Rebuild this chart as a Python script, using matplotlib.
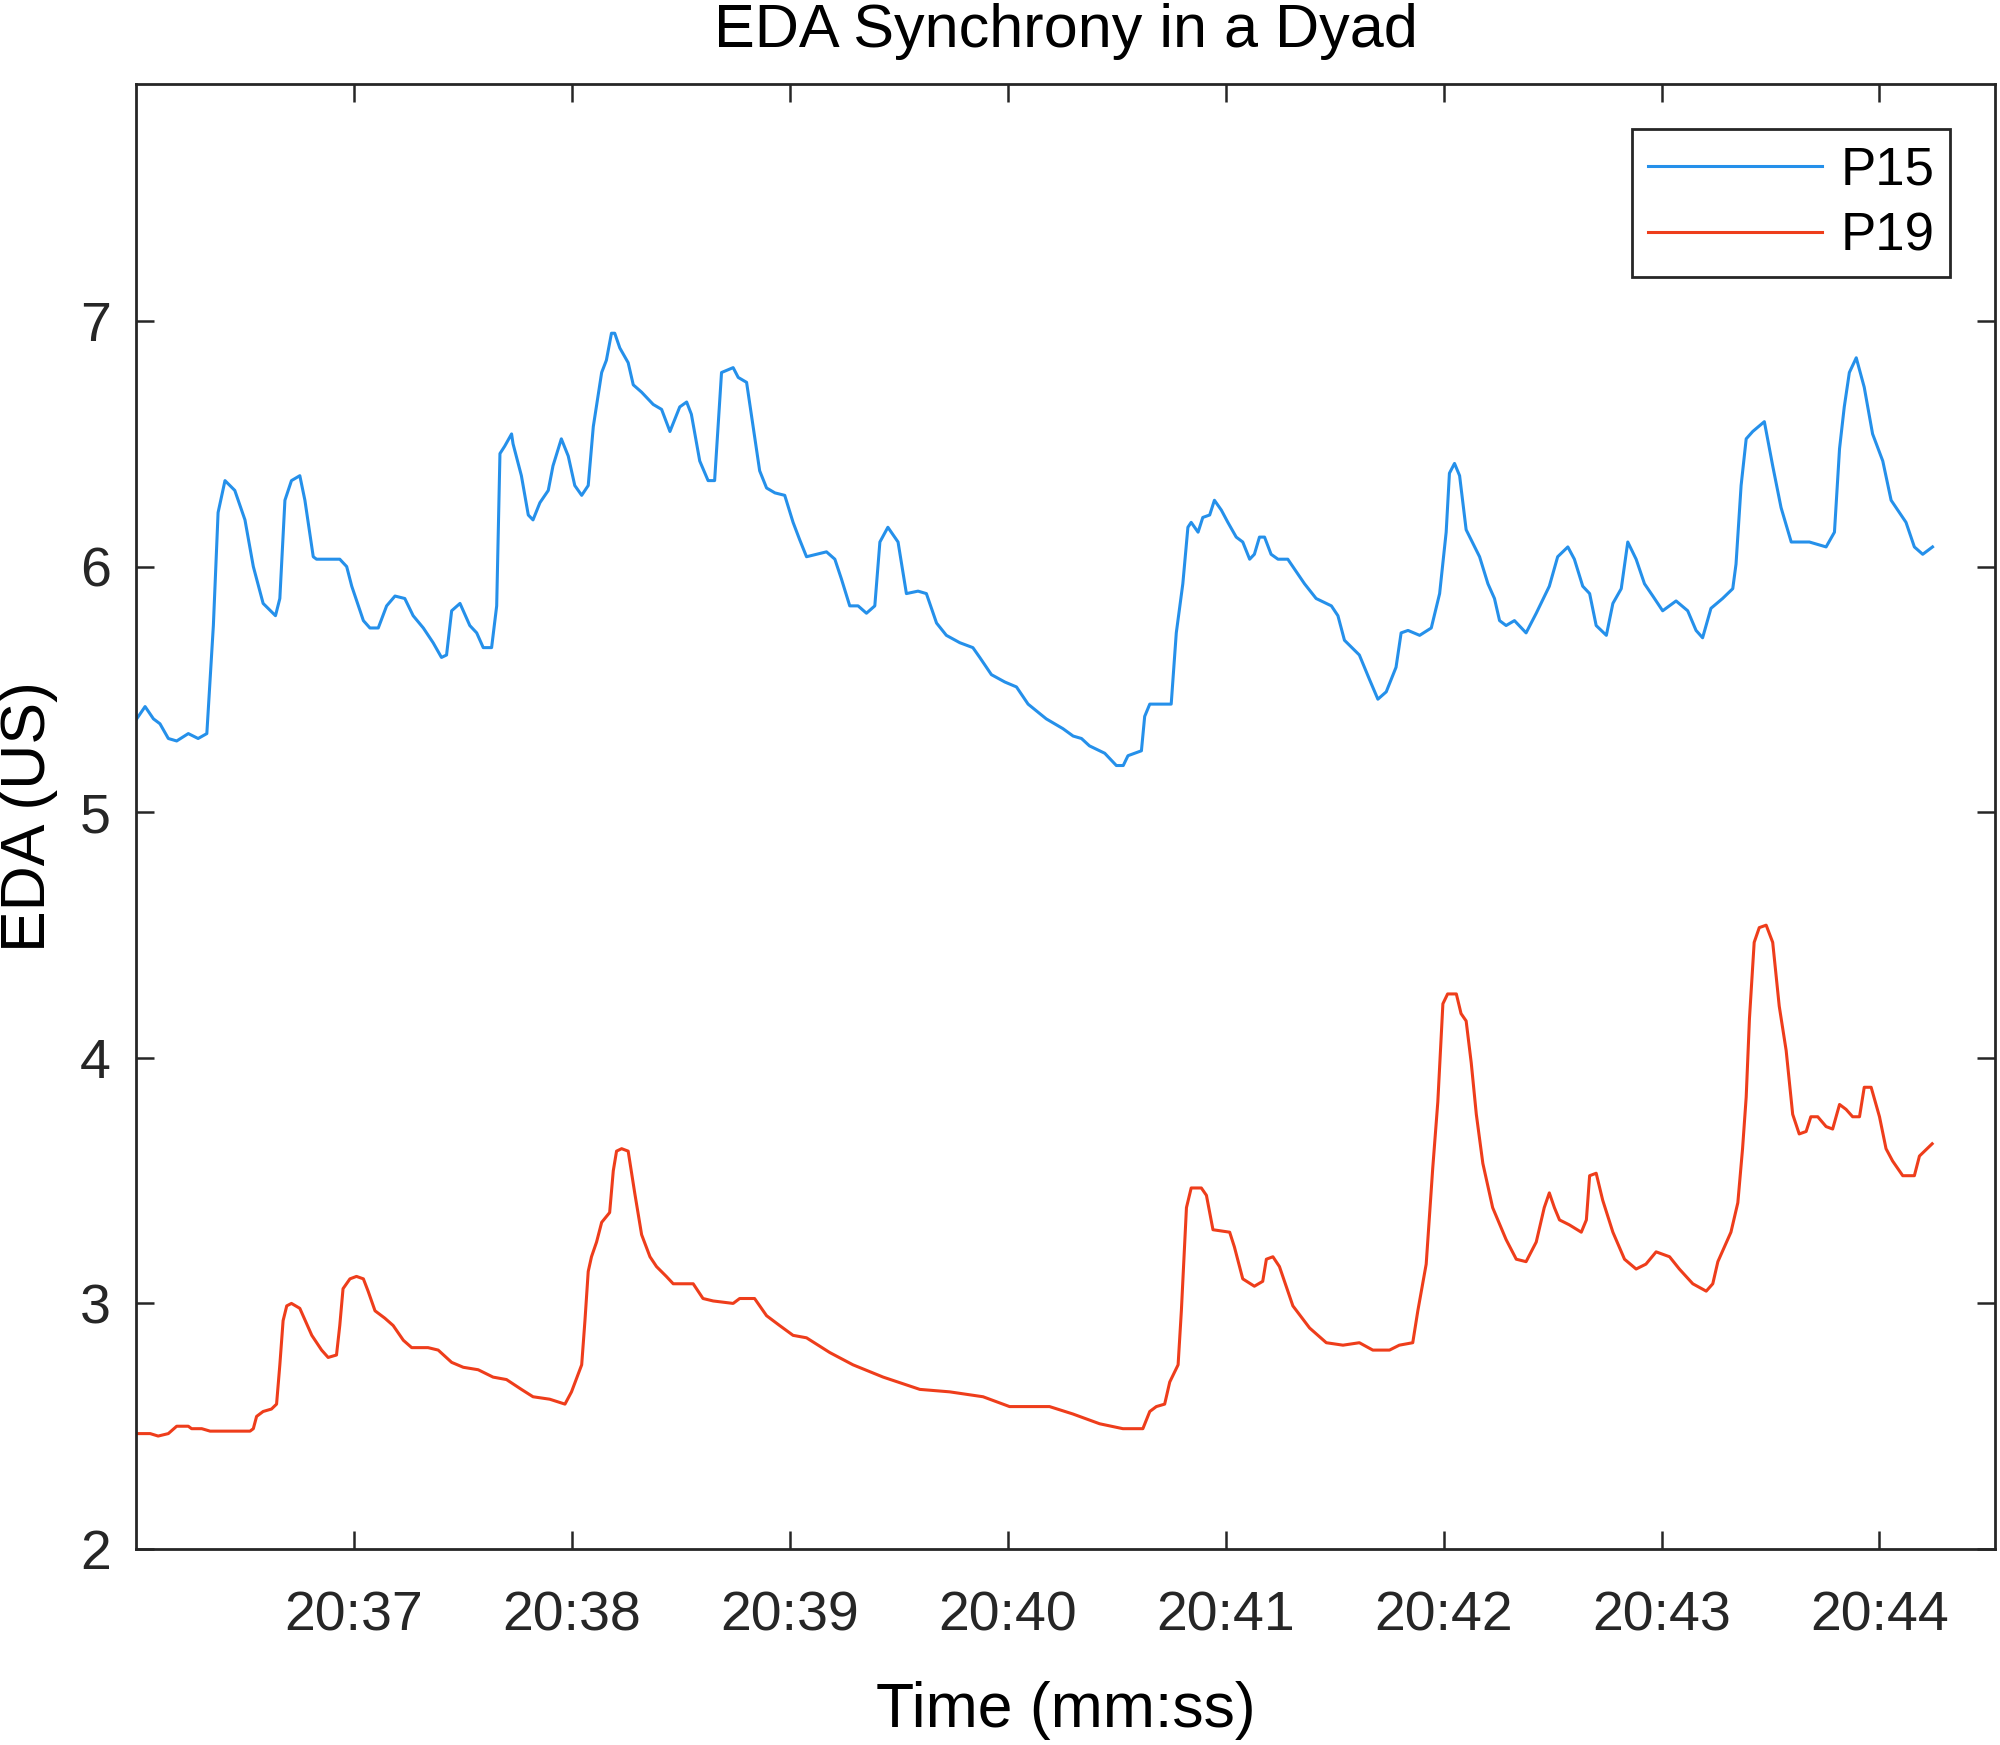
import numpy as np
import matplotlib
matplotlib.use("Agg")
import matplotlib.pyplot as plt
from matplotlib.ticker import FixedLocator, FuncFormatter

# time stamps in seconds after 20:36:00, EDA in microsiemens
p15_t = [0.2, 2.5, 4.8, 6.6, 8.9, 11.2, 14.4, 17.1, 19.5, 21.3,
         22.6, 24.5, 27.2, 30.0, 32.3, 35.0, 38.4, 39.6, 41.0, 42.8,
         45.1, 46.5, 48.8, 49.7, 56.1, 58.0, 59.4, 62.6, 64.4, 66.7,
         69.0, 71.3, 74.0, 76.3, 79.1, 81.8, 84.1, 85.5, 86.9, 89.2,
         91.9, 93.8, 95.6, 97.9, 99.3, 100.2, 101.5, 103.4, 103.8, 106.1,
         108.0, 109.3, 111.2, 113.5, 114.8, 117.1, 119.0, 120.8, 122.7, 124.5,
         125.9, 128.2, 129.5, 130.9, 131.8, 133.2, 135.5, 136.9, 139.2, 142.4,
         144.7, 147.0, 149.7, 151.6, 152.9, 155.2, 157.5, 159.3, 161.2, 164.4,
         165.8, 168.1, 169.9, 171.7, 173.6, 175.9, 178.6, 180.9, 182.7, 184.6,
         187.3, 190.1, 192.4, 194.2, 196.5, 198.8, 201.1, 203.4, 204.8, 207.0,
         209.8, 212.1, 215.3, 217.6, 220.4, 223.1, 226.8, 230.4, 232.3, 235.5,
         239.2, 242.4, 245.6, 250.6, 255.2, 258.0, 260.3, 262.5, 266.7, 269.9,
         271.8, 273.1, 276.8, 277.7, 279.1, 281.8, 285.0, 286.4, 288.2, 289.6,
         290.5, 292.4, 293.7, 295.6, 296.9, 298.8, 300.6, 302.9, 304.7, 306.6,
         307.9, 309.3, 310.7, 312.5, 314.4, 317.1, 319.4, 321.7, 324.9, 329.1,
         330.9, 332.7, 336.8, 339.6, 341.9, 344.2, 346.9, 348.3, 350.2, 353.4,
         356.6, 358.9, 360.7, 361.6, 363.0, 364.4, 366.2, 369.9, 372.2, 374.0,
         375.4, 377.2, 379.5, 382.7, 385.5, 389.1, 391.4, 394.2, 396.0, 398.3,
         400.2, 402.0, 404.8, 406.6, 408.9, 410.7, 413.0, 415.3, 417.6, 420.3,
         424.0, 427.2, 429.5, 431.3, 433.6, 436.8, 439.6, 440.5, 441.9, 443.3,
         445.1, 448.3, 450.6, 452.9, 455.7, 460.7, 465.3, 467.6, 469.0, 470.3,
         471.7, 473.6, 475.8, 478.1, 480.9, 483.2, 487.3, 489.6, 491.9, 494.6]
p15_eda = [5.38, 5.43, 5.38, 5.36, 5.30, 5.29, 5.32, 5.30, 5.32, 5.76,
           6.22, 6.35, 6.31, 6.19, 6.00, 5.85, 5.80, 5.87, 6.27, 6.35,
           6.37, 6.27, 6.04, 6.03, 6.03, 6.00, 5.92, 5.78, 5.75, 5.75,
           5.84, 5.88, 5.87, 5.80, 5.75, 5.69, 5.63, 5.64, 5.82, 5.85,
           5.76, 5.73, 5.67, 5.67, 5.84, 6.46, 6.49, 6.54, 6.50, 6.37,
           6.21, 6.19, 6.26, 6.31, 6.41, 6.52, 6.45, 6.33, 6.29, 6.33,
           6.57, 6.79, 6.84, 6.95, 6.95, 6.89, 6.83, 6.74, 6.71, 6.66,
           6.64, 6.55, 6.65, 6.67, 6.62, 6.43, 6.35, 6.35, 6.79, 6.81,
           6.77, 6.75, 6.57, 6.39, 6.32, 6.30, 6.29, 6.18, 6.11, 6.04,
           6.05, 6.06, 6.03, 5.95, 5.84, 5.84, 5.81, 5.84, 6.10, 6.16,
           6.10, 5.89, 5.90, 5.89, 5.77, 5.72, 5.69, 5.67, 5.63, 5.56,
           5.53, 5.51, 5.44, 5.38, 5.34, 5.31, 5.30, 5.27, 5.24, 5.19,
           5.19, 5.23, 5.25, 5.39, 5.44, 5.44, 5.44, 5.73, 5.93, 6.16,
           6.18, 6.14, 6.20, 6.21, 6.27, 6.23, 6.18, 6.12, 6.10, 6.03,
           6.05, 6.12, 6.12, 6.05, 6.03, 6.03, 5.98, 5.93, 5.87, 5.84,
           5.80, 5.70, 5.64, 5.54, 5.46, 5.49, 5.59, 5.73, 5.74, 5.72,
           5.75, 5.89, 6.14, 6.38, 6.42, 6.37, 6.15, 6.04, 5.93, 5.87,
           5.78, 5.76, 5.78, 5.73, 5.81, 5.92, 6.04, 6.08, 6.03, 5.92,
           5.89, 5.76, 5.72, 5.85, 5.91, 6.10, 6.03, 5.93, 5.88, 5.82,
           5.86, 5.82, 5.74, 5.71, 5.83, 5.87, 5.91, 6.01, 6.33, 6.52,
           6.55, 6.59, 6.41, 6.24, 6.10, 6.10, 6.08, 6.14, 6.48, 6.65,
           6.79, 6.85, 6.73, 6.54, 6.43, 6.27, 6.18, 6.08, 6.05, 6.08]

p19_t = [0.2, 3.9, 6.1, 8.9, 11.2, 14.4, 15.3, 18.1, 20.4, 31.4,
         32.3, 33.2, 35.0, 37.3, 38.7, 39.6, 40.5, 41.5, 42.8, 45.1,
         48.4, 51.1, 52.9, 55.2, 56.1, 57.0, 58.9, 60.7, 62.6, 63.9,
         65.8, 68.5, 70.8, 73.6, 75.9, 80.4, 83.2, 86.9, 90.1, 94.2,
         98.3, 102.0, 106.1, 109.3, 113.9, 118.1, 119.9, 122.7, 123.6, 124.5,
         125.4, 126.8, 128.2, 130.4, 131.4, 132.3, 133.7, 135.5, 137.3, 139.2,
         141.5, 143.3, 146.0, 147.9, 153.4, 156.1, 158.9, 164.4, 166.2, 170.3,
         173.6, 177.2, 180.9, 184.6, 191.0, 197.4, 205.7, 215.8, 224.0, 233.2,
         240.5, 251.5, 257.9, 265.3, 271.7, 277.2, 279.1, 280.9, 283.2, 284.6,
         286.9, 287.8, 289.2, 290.5, 293.3, 294.7, 296.5, 301.1, 302.4, 304.7,
         307.9, 310.2, 311.2, 313.0, 314.8, 318.5, 323.1, 327.7, 332.3, 336.8,
         340.5, 345.1, 347.8, 351.5, 352.9, 355.2, 357.0, 358.4, 359.8, 361.1,
         363.5, 364.8, 366.2, 367.6, 369.0, 370.8, 373.5, 377.2, 380.0, 382.7,
         385.5, 387.7, 389.1, 390.5, 391.9, 394.6, 397.9, 399.3, 400.2, 402.0,
         403.8, 406.6, 409.8, 413.0, 415.7, 418.5, 422.2, 424.9, 428.6, 432.3,
         434.1, 435.5, 437.3, 439.1, 441.0, 442.3, 443.3, 444.2, 445.5, 446.9,
         448.8, 450.6, 452.4, 454.3, 456.1, 457.9, 459.8, 461.1, 463.0, 465.3,
         467.1, 469.0, 470.8, 472.6, 474.5, 475.8, 477.7, 480.0, 481.8, 483.6,
         486.4, 489.6, 491.0, 494.5]
p19_eda = [2.47, 2.47, 2.46, 2.47, 2.50, 2.50, 2.49, 2.49, 2.48, 2.48,
           2.49, 2.54, 2.56, 2.57, 2.59, 2.75, 2.93, 2.99, 3.00, 2.98,
           2.87, 2.81, 2.78, 2.79, 2.91, 3.06, 3.10, 3.11, 3.10, 3.05,
           2.97, 2.94, 2.91, 2.85, 2.82, 2.82, 2.81, 2.76, 2.74, 2.73,
           2.70, 2.69, 2.65, 2.62, 2.61, 2.59, 2.64, 2.75, 2.93, 3.13,
           3.19, 3.25, 3.33, 3.37, 3.54, 3.62, 3.63, 3.62, 3.45, 3.28,
           3.19, 3.15, 3.11, 3.08, 3.08, 3.02, 3.01, 3.00, 3.02, 3.02,
           2.95, 2.91, 2.87, 2.86, 2.80, 2.75, 2.70, 2.65, 2.64, 2.62,
           2.58, 2.58, 2.55, 2.51, 2.49, 2.49, 2.56, 2.58, 2.59, 2.68,
           2.75, 2.97, 3.39, 3.47, 3.47, 3.44, 3.30, 3.29, 3.23, 3.10,
           3.07, 3.09, 3.18, 3.19, 3.15, 2.99, 2.90, 2.84, 2.83, 2.84,
           2.81, 2.81, 2.83, 2.84, 2.97, 3.16, 3.55, 3.82, 4.22, 4.26,
           4.26, 4.18, 4.15, 3.98, 3.77, 3.57, 3.39, 3.26, 3.18, 3.17,
           3.25, 3.39, 3.45, 3.39, 3.34, 3.32, 3.29, 3.34, 3.52, 3.53,
           3.42, 3.29, 3.18, 3.14, 3.16, 3.21, 3.19, 3.14, 3.08, 3.05,
           3.08, 3.17, 3.23, 3.29, 3.41, 3.63, 3.84, 4.16, 4.47, 4.53,
           4.54, 4.47, 4.21, 4.03, 3.77, 3.69, 3.70, 3.76, 3.76, 3.72,
           3.71, 3.81, 3.79, 3.76, 3.76, 3.88, 3.88, 3.76, 3.63, 3.58,
           3.52, 3.52, 3.60, 3.65]

tick_minutes = [37, 38, 39, 40, 41, 42, 43, 44]
y_ticks = [2, 3, 4, 5, 6, 7]

plt.rcParams['font.family'] = ['Liberation Sans', 'DejaVu Sans']
dark = '#262626'

fig = plt.figure(figsize=(20, 17.45), dpi=100)
ax = fig.add_axes([0.068, 0.1123, 0.9295, 0.8396])

x15 = 36 + np.array(p15_t) / 60.0
x19 = 36 + np.array(p19_t) / 60.0
ax.plot(x15, p15_eda, color='#2590ea', lw=2.2, label='P15',
        solid_joinstyle='round')
ax.plot(x19, p19_eda, color='#ee3d1b', lw=2.2, label='P19',
        solid_joinstyle='round')

ax.set_xlim(36.0, 44.53)
ax.set_ylim(2, 7.965)
ax.xaxis.set_major_locator(FixedLocator(tick_minutes))
ax.xaxis.set_major_formatter(FuncFormatter(lambda m, p: "20:%02d" % int(round(m))))
ax.set_yticks(y_ticks)

ax.tick_params(direction='in', length=13, width=1.8, colors=dark,
               labelsize=40, top=True, right=True)
ax.tick_params(axis='x', pad=30)
ax.tick_params(axis='y', pad=18)
for s in ax.spines.values():
    s.set_linewidth(2.0)
    s.set_color(dark)

ax.set_xlabel('Time (mm:ss)', fontsize=45, color='black', va='center')
ax.xaxis.set_label_coords(0.5, -0.11)
ax.set_ylabel('EDA (US)', fontsize=45, color='black', va='center')
ax.yaxis.set_label_coords(-0.058, 0.5)
ax.text(0.5, 1.036, 'EDA Synchrony in a Dyad', transform=ax.transAxes,
        ha='center', va='center', fontsize=44, color='black')

leg = ax.legend(loc='upper right', bbox_to_anchor=(0.976, 0.969), fontsize=38,
                handlelength=3.3, handletextpad=0.35, labelspacing=0.3,
                borderpad=0.3, borderaxespad=0, fancybox=False, framealpha=1)
leg.get_frame().set_edgecolor(dark)
leg.get_frame().set_linewidth(2.0)

fig.savefig('out.png', dpi=100)
